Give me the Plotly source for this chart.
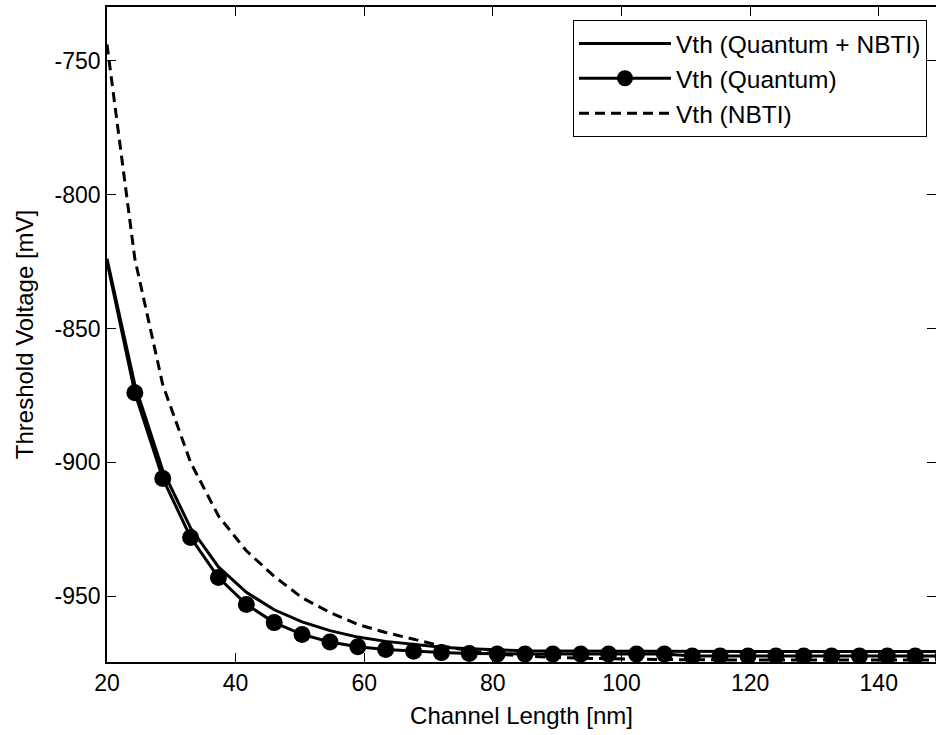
import plotly.graph_objects as go

# Channel length [nm]
channel_length = [20, 24.33, 28.67, 33, 37.33, 41.67, 46, 50.33, 54.67, 59, 63.33,
                  67.67, 72, 76.33, 80.67, 85, 89.33, 93.67, 98, 102.33, 106.67,
                  111, 115.33, 119.67, 124, 128.33, 132.67, 137, 141.33, 145.67, 150]

# Threshold voltage [mV]
vth_quantum_nbti = [-824, -871, -903, -924.5, -939, -948.5, -955, -959.5, -962.8, -965.2,
                    -966.8, -968, -969, -969.6, -970, -970.3, -970.4, -970.5, -970.5, -970.5,
                    -970.5, -970.6, -970.6, -970.6, -970.6, -970.6, -970.6, -970.6, -970.6,
                    -970.6, -970.6]
vth_quantum = [-825, -874, -906, -928, -943, -953, -959.8, -964.2, -967, -968.8,
               -969.8, -970.5, -971, -971.3, -971.5, -971.5, -971.5, -971.5, -971.5, -971.5,
               -971.5, -972.3, -972.3, -972.3, -972.3, -972.3, -972.3, -972.3, -972.3,
               -972.3, -972.3]
vth_nbti = [-744, -824, -871, -900, -920, -933, -942.5, -950.5, -956, -960.5,
            -963.5, -966, -968.5, -970.3, -971.5, -972.3, -972.8, -973.1, -973.3, -973.5,
            -973.6, -973.7, -973.7, -973.8, -973.8, -973.8, -973.8, -973.8, -973.8,
            -973.8, -973.8]

x_ticks = [20, 40, 60, 80, 100, 120, 140]
y_ticks = [-750, -800, -850, -900, -950]
y_tick_labels = ["-750", "-800", "-850", "-900", "-950"]

FONT = "Liberation Sans, Arial, sans-serif"

fig = go.Figure()
fig.add_trace(go.Scatter(
    x=channel_length, y=vth_quantum_nbti, mode="lines",
    name="Vth (Quantum + NBTI)",
    line=dict(color="black", width=3),
))
marker_sizes = [0] + [17] * (len(channel_length) - 1)
fig.add_trace(go.Scatter(
    x=channel_length, y=vth_quantum, mode="lines+markers",
    name="Vth (Quantum)",
    line=dict(color="black", width=3),
    marker=dict(color="black", size=marker_sizes, opacity=1, line=dict(width=0)),
))
fig.add_trace(go.Scatter(
    x=channel_length, y=vth_nbti, mode="lines",
    name="Vth (NBTI)",
    line=dict(color="black", width=3, dash="10px,6px"),
))
# invisible trace to carry right-hand y ticks
fig.add_trace(go.Scatter(x=[None], y=[None], yaxis="y2", showlegend=False,
                         hoverinfo="skip"))

fig.update_layout(
    width=936, height=735,
    margin=dict(l=107, r=0, t=7, b=73),
    paper_bgcolor="white", plot_bgcolor="white",
    font=dict(family=FONT, size=23, color="black"),
    showlegend=True,
    legend=dict(
        x=(573 - 107) / 829, y=1 - (20 - 7) / 655,
        xanchor="left", yanchor="top",
        bgcolor="white", bordercolor="black", borderwidth=1,
        font=dict(family=FONT, size=24.5, color="black"),
        itemwidth=92,
        tracegroupgap=0,
    ),
    xaxis=dict(
        range=[20, 148.9], tickvals=x_ticks,
        ticks="inside", ticklen=9, tickwidth=1, tickcolor="black",
        showline=True, linecolor="black", linewidth=1.5, mirror="ticks",
        showgrid=False, zeroline=False,
        title=dict(text="Channel Length [nm]", font=dict(size=24), standoff=12),
        tickfont=dict(size=23),
    ),
    yaxis=dict(
        range=[-974.5, -730], tickvals=y_ticks, ticktext=y_tick_labels,
        ticks="inside", ticklen=9, tickwidth=1, tickcolor="black",
        showline=True, linecolor="black", linewidth=1.5,
        showgrid=False, zeroline=False,
        title=dict(text="Threshold Voltage [mV]", font=dict(size=24), standoff=14),
        tickfont=dict(size=23),
    ),
    yaxis2=dict(
        range=[-974.5, -730], tickvals=y_ticks, overlaying="y", side="right",
        ticks="inside", ticklen=9, tickwidth=1, tickcolor="black",
        showticklabels=False, showline=False, showgrid=False, zeroline=False,
    ),
)

fig.write_html(
    "out.html",
    config={"displayModeBar": False},
    post_script="document.body.style.margin='0';document.body.style.overflow='hidden';",
)
